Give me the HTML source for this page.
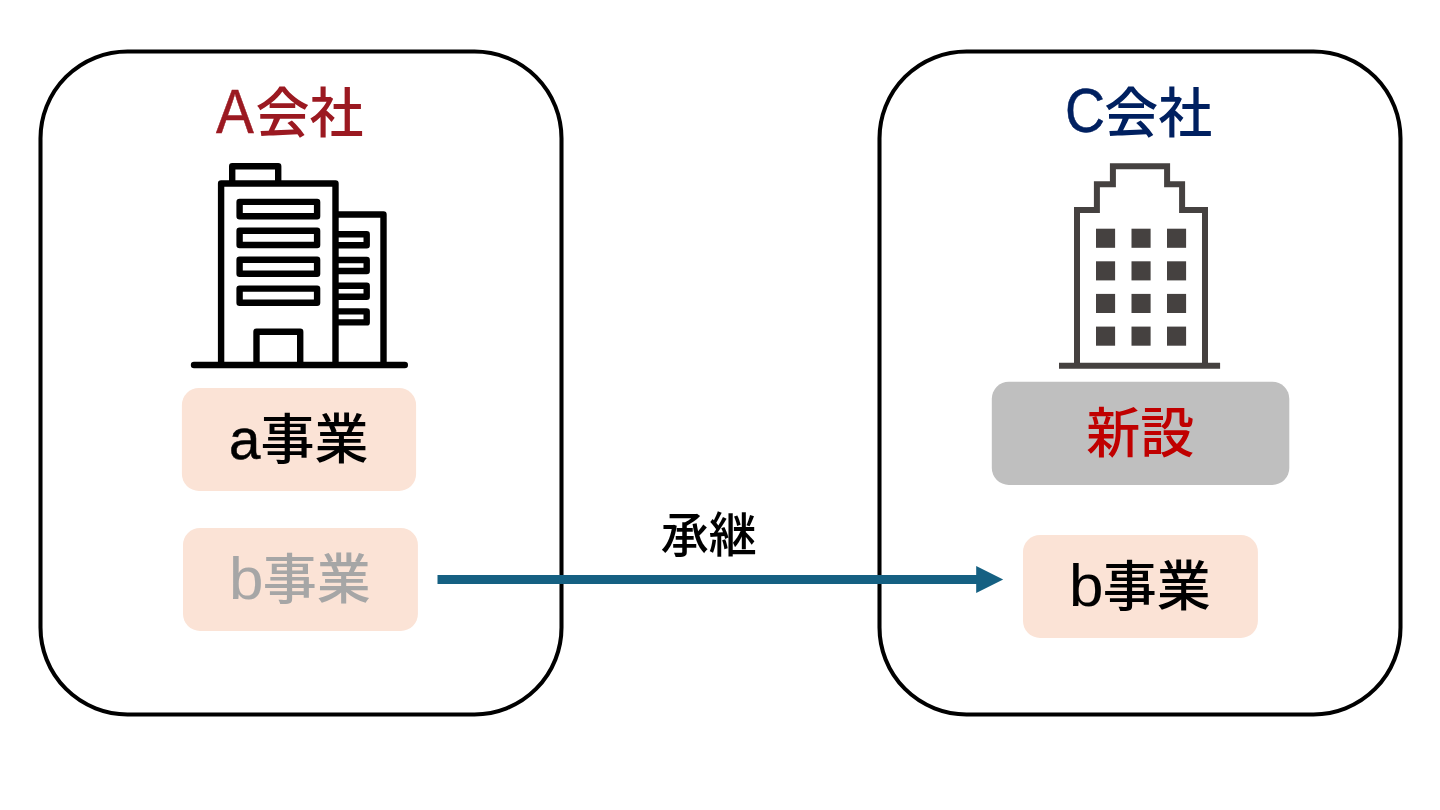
<!DOCTYPE html>
<html lang="ja">
<head>
<meta charset="utf-8">
<style>
html,body{margin:0;padding:0;background:#fff;}
body{width:1440px;height:810px;overflow:hidden;position:relative;}
svg.art{position:absolute;left:0;top:0;display:block;}
.lbl{position:absolute;left:0;top:0;margin:0;will-change:transform;font-family:"Liberation Sans","Noto Sans CJK JP",sans-serif;font-size:54px;line-height:1;white-space:nowrap;}
.lbl span{position:relative;display:inline-block;vertical-align:top;width:0;line-height:1;white-space:nowrap;transform-origin:0 0;}
.lbl .lat{font-weight:400;-webkit-text-stroke:0.5px currentColor;}
.lbl .cjk{font-weight:500;}
</style>
</head>
<body>
<svg class="art" width="1440" height="810" viewBox="0 0 1440 810">
  <!-- company frames -->
  <rect x="40.5" y="51.4" width="521" height="663" rx="87" ry="87" fill="#fff" stroke="#000" stroke-width="4.05"/>
  <rect x="879.5" y="51.4" width="521" height="663" rx="87" ry="87" fill="#fff" stroke="#000" stroke-width="4.05"/>

  <!-- building A icon -->
  <g fill="none" stroke="#000" stroke-width="6.4" stroke-linejoin="round" stroke-linecap="round">
    <path d="M232.2 183.5V166.2H278.2V183.5" stroke-linecap="butt"/>
    <path d="M221.1 365V183.5H335.5V365" stroke-linecap="butt"/>
    <path d="M335.5 214.5H383.5V365" stroke-linecap="butt"/>
    <rect x="239.6" y="201.9" width="77.5" height="14.3"/>
    <rect x="239.6" y="230.7" width="77.5" height="14.3"/>
    <rect x="239.6" y="259.7" width="77.5" height="14.1"/>
    <rect x="239.6" y="288.6" width="77.5" height="14.1"/>
    <path d="M335.5 234.3H366.7V245.3H335.5" stroke-linecap="butt"/>
    <path d="M335.5 260H366.7V271H335.5" stroke-linecap="butt"/>
    <path d="M335.5 285.7H366.7V296.7H335.5" stroke-linecap="butt"/>
    <path d="M335.5 311.4H366.7V322.4H335.5" stroke-linecap="butt"/>
    <path d="M256.5 365V331.7H300.2V365" stroke-linecap="butt"/>
    <path d="M194 365H404.8"/>
  </g>

  <!-- building C icon -->
  <g fill="none" stroke="#454140" stroke-width="6">
    <path d="M1077 365.7V210H1096.9V184.2H1112.9V166.2H1167.1V184.2H1182.1V210H1205V365.7"/>
    <path d="M1059 365.7H1220.1"/>
  </g>
  <g fill="#454140">
    <rect x="1096" y="228.7" width="19.1" height="19.1"/><rect x="1131.5" y="228.7" width="19.1" height="19.1"/><rect x="1167" y="228.7" width="19.1" height="19.1"/>
    <rect x="1096" y="261.3" width="19.1" height="19.1"/><rect x="1131.5" y="261.3" width="19.1" height="19.1"/><rect x="1167" y="261.3" width="19.1" height="19.1"/>
    <rect x="1096" y="293.9" width="19.1" height="19.1"/><rect x="1131.5" y="293.9" width="19.1" height="19.1"/><rect x="1167" y="293.9" width="19.1" height="19.1"/>
    <rect x="1096" y="326.6" width="19.1" height="19.1"/><rect x="1131.5" y="326.6" width="19.1" height="19.1"/><rect x="1167" y="326.6" width="19.1" height="19.1"/>
  </g>

  <!-- business pills -->
  <rect x="181.9" y="388" width="234.2" height="102.9" rx="17" fill="#fbe3d6"/>
  <rect x="183" y="528" width="234.9" height="102.9" rx="17" fill="#fbe3d6"/>
  <rect x="991.8" y="381.8" width="297.5" height="103.1" rx="17" fill="#bfbfbf"/>
  <rect x="1023" y="535" width="234.9" height="102.9" rx="17" fill="#fbe3d6"/>

  <!-- arrow -->
  <path d="M437.5 579.5H980" fill="none" stroke="#156082" stroke-width="9"/>
  <path d="M976.2 566L1003.2 579.5L976.2 593Z" fill="#156082"/>
</svg>

<div class="lbl a-title" style="color:#9b1921"><span class="lat" style="left:216px;top:80px;font-size:62.6px;transform:scaleX(0.906)">A</span><span class="cjk" style="left:255.5px;top:87px;font-size:54px">会社</span></div>
<div class="lbl c-title" style="color:#002060"><span class="lat" style="left:1065px;top:80px;font-size:62.2px;transform:scaleX(0.891)">C</span><span class="cjk" style="left:1104.25px;top:87px;font-size:54px">会社</span></div>
<div class="lbl a-biz" style="color:#000"><span class="lat" style="left:229px;top:411px;font-size:57.2px;transform:scaleX(0.986)">a</span><span class="cjk" style="left:260.5px;top:413px;font-size:54px">事業</span></div>
<div class="lbl b-biz-l" style="color:#a6a6a6"><span class="lat" style="left:229px;top:549px;font-size:59.3px;-webkit-text-stroke-width:0.1px;transform:scaleX(1.045)">b</span><span class="cjk" style="left:262.75px;top:553px;font-size:54px">事業</span></div>
<div class="lbl new" style="color:#c00000"><span class="cjk" style="left:1086.25px;top:407px;font-size:54px">新設</span></div>
<div class="lbl b-biz-r" style="color:#000"><span class="lat" style="left:1069px;top:556px;font-size:59.3px;-webkit-text-stroke-width:0.1px;transform:scaleX(1.045)">b</span><span class="cjk" style="left:1102.75px;top:560px;font-size:54px">事業</span></div>
<div class="lbl succ" style="color:#000"><span class="cjk" style="left:660.75px;top:512px;font-size:48px">承継</span></div>
</body>
</html>
